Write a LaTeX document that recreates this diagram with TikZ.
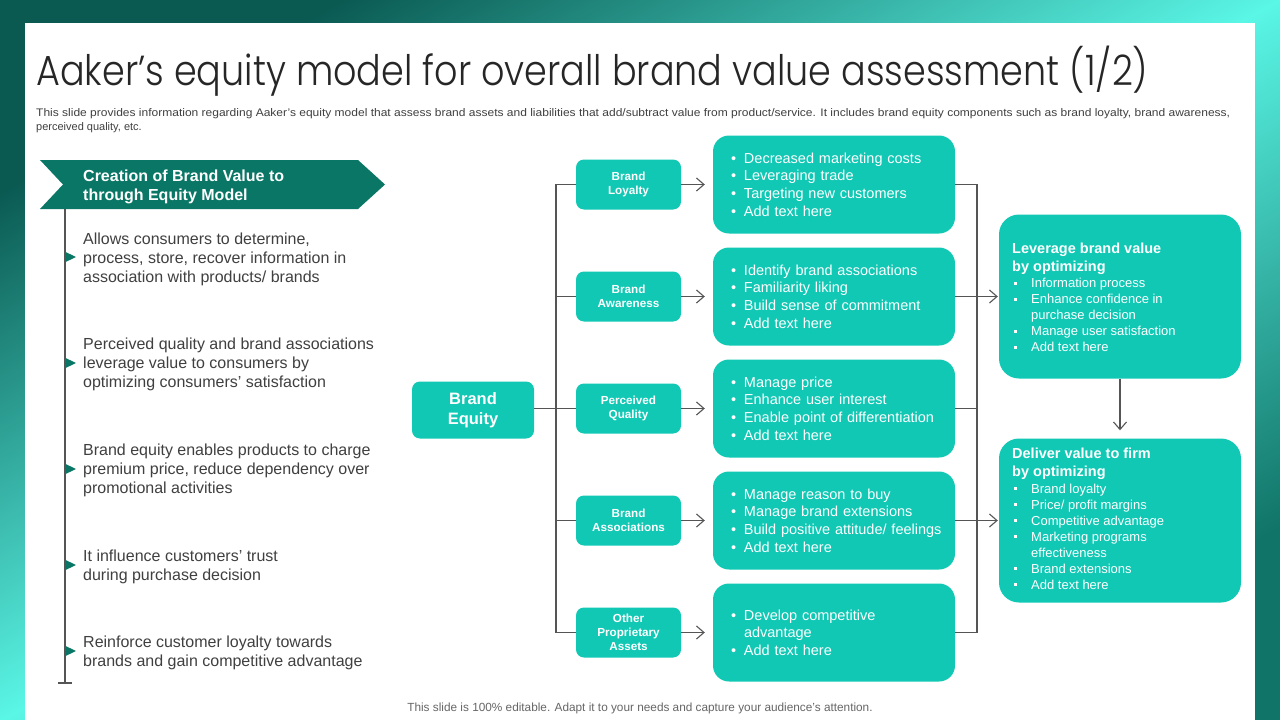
\documentclass[tikz,border=0pt]{standalone}
\usepackage{fontspec}
\setmainfont{Liberation Sans}
\IfFontExistsTF{Poppins Light}{\newfontfamily\titlefont{Poppins Light}}{\newfontfamily\titlefont{Poppins}}
\usetikzlibrary{arrows.meta,calc}
\definecolor{boxc}{RGB}{16,200,180}
\definecolor{hdrc}{RGB}{10,118,102}
\definecolor{lgray}{RGB}{85,85,85}
\definecolor{txtc}{RGB}{64,64,64}
\definecolor{titc}{RGB}{38,38,38}
\definecolor{bgdark}{RGB}{10,90,82}
\definecolor{bgcyan}{RGB}{90,246,230}
\definecolor{bgdark2}{RGB}{17,116,104}
\newcommand{\fsz}[2]{\fontsize{#1}{#2}\selectfont}
\newcommand{\bl}{\hspace*{18pt}\makebox[13pt][l]{•}}
\newcommand{\blc}{\hspace*{31pt}}
\newcommand{\sq}{\makebox[19pt][l]{\hspace*{2pt}\rule[3pt]{3pt}{3pt}}}
\newcommand{\sqc}{\hspace*{19pt}}
\tikzset{
  conn/.style={draw=lgray, line width=1.1pt},
  arr/.style={conn, -{Straight Barb[length=7.5pt,width=13pt]}},
  sbox/.style={fill=boxc, rounded corners=8pt, minimum width=105pt, minimum height=50pt,
    font=\bfseries\fsz{11.7}{14}, text=white, align=center, inner sep=0pt},
  detail/.style={fill=boxc, rounded corners=16pt, minimum width=242pt, minimum height=98pt,
    text width=242pt, inner xsep=0pt, inner ysep=0pt, align=left, text=white,
    font=\fsz{14.5}{17.6}},
  bigbox/.style={fill=boxc, rounded corners=20pt, minimum width=242pt, minimum height=164pt, inner sep=0pt},
  bigtitle/.style={anchor=north west, inner sep=0pt, align=left, text=white, font=\bfseries\fsz{14.5}{18}},
  bigbul/.style={anchor=north west, inner sep=0pt, align=left, text=white, font=\fsz{13}{16}},
  ltxt/.style={anchor=north west, inner sep=0pt, align=left, text=txtc, font=\fsz{16}{18.7}},
}
\begin{document}
\begin{tikzpicture}[x=1pt,y=-1pt]
\useasboundingbox (0,0) rectangle (1280,720);
% background
\shade[left color=bgdark, right color=bgdark2, middle color=bgcyan, shading angle=29.4] (0,0) rectangle (1280,720);
\fill[white] (25,23) rectangle (1255,720);
% title
\node[anchor=base west, inner sep=0pt, text=titc] (title) at (36,85)
  {\resizebox{1112pt}{\height}{\titlefont\fsz{42}{48}Aaker’s equity model for overall brand value assessment (1/2)}};
\node[anchor=base west, inner sep=0pt, text=txtc] (sub1) at (36,116)
  {\resizebox{1194pt}{\height}{\fsz{11}{13}This slide provides information regarding Aaker’s equity model that assess brand assets and liabilities that add/subtract value from product/service. It includes brand equity components such as brand loyalty, brand awareness,}};
\node[anchor=base west, inner sep=0pt, text=txtc, font=\fsz{11}{13}] (sub2) at (36,130) {perceived quality, etc.};
% left header
\fill[hdrc] (40,160) -- (358,160) -- (385,184.5) -- (358,209) -- (40,209) -- (63,184.5) -- cycle;
\node[anchor=north west, inner sep=0pt, align=left, text=white, font=\bfseries\fsz{16}{19}] (hdr) at (83,170)
  {Creation of Brand Value to\\through Equity Model};
\coordinate (vtop) at (65,209);
\coordinate (vbot) at (65,683);
\draw[conn] (vtop) -- (vbot);
\draw[conn] ([xshift=-7pt]vbot) -- ([xshift=7pt]vbot);
\foreach \yy in {257,363,469,565,651}{
  \fill[hdrc] (66,\yy-4.8) -- (76,\yy) -- (66,\yy+4.8) -- cycle;
}
\node[ltxt] (l1) at (83,233) {Allows consumers to determine,\\process, store, recover information in\\association with products/ brands};
\node[ltxt] (l2) at (83,338) {Perceived quality and brand associations\\leverage value to consumers by\\optimizing consumers’ satisfaction};
\node[ltxt] (l3) at (83,444) {Brand equity enables products to charge\\premium price, reduce dependency over\\promotional activities};
\node[ltxt] (l4) at (83,550) {It influence customers’ trust\\during purchase decision};
\node[ltxt] (l5) at (83,636) {Reinforce customer loyalty towards\\brands and gain competitive advantage};
% brand equity
\node[sbox, minimum width=122pt, minimum height=57pt, font=\bfseries\fsz{16.5}{19.5}] (be) at (473,410) {Brand\\Equity};
% small boxes
\node[sbox] (s1) at (628.5,184.5) {Brand\\Loyalty};
\node[sbox] (s2) at (628.5,296.5) {Brand\\Awareness};
\node[sbox] (s3) at (628.5,408.5) {Perceived\\Quality};
\node[sbox] (s4) at (628.5,520.5) {Brand\\Associations};
\node[sbox] (s5) at (628.5,632.5) {Other\\Proprietary\\Assets};
% detail boxes
\node[detail] (d1) at (834,184.5) {\bl Decreased marketing costs\\\bl Leveraging trade\\\bl Targeting new customers\\\bl Add text here};
\node[detail] (d2) at (834,296.5) {\bl Identify brand associations\\\bl Familiarity liking\\\bl Build sense of commitment\\\bl Add text here};
\node[detail] (d3) at (834,408.5) {\bl Manage price\\\bl Enhance user interest\\\bl Enable point of differentiation\\\bl Add text here};
\node[detail] (d4) at (834,520.5) {\bl Manage reason to buy\\\bl Manage brand extensions\\\bl Build positive attitude/ feelings\\\bl Add text here};
\node[detail] (d5) at (834,632.5) {\bl Develop competitive\\\blc advantage\\\bl Add text here};
% right boxes
\node[bigbox] (lev) at (1120,296.5) {};
\node[bigbox] (del) at (1120,520.5) {};
\node[bigtitle] (levh) at (1012,242.5) {Leverage brand value\\by optimizing};
\node[bigbul] (levb) at (1012,278) {\sq Information process\\\sq Enhance confidence in\\\sqc purchase decision\\\sq Manage user satisfaction\\\sq Add text here};
\node[bigtitle] (delh) at (1012,447.5) {Deliver value to firm\\by optimizing};
\node[bigbul] (delb) at (1012,483.5) {\sq Brand loyalty\\\sq Price/ profit margins\\\sq Competitive advantage\\\sq Marketing programs\\\sqc effectiveness\\\sq Brand extensions\\\sq Add text here};
% left connectors
\coordinate (lbus) at (556,408.5);
\draw[conn] (be.east |- s3.west) -- (s3.west);
\draw[conn] (s1.west) -| (lbus) |- (s5.west);
\draw[conn] (s2.west) -- (s2.west -| lbus);
\draw[conn] (s4.west) -- (s4.west -| lbus);
\foreach \i in {1,...,5}{
  \draw[arr, shorten >=8pt] (s\i.east) -- (d\i.west);
}
% right connectors
\coordinate (rbus) at (977,408.5);
\draw[conn] (d1.east) -| (rbus) |- (d5.east);
\draw[conn] (d3.east) -- (d3.east -| rbus);
\draw[arr, shorten >=1pt] (d2.east) -- (lev.west);
\draw[arr, shorten >=1pt] (d4.east) -- (del.west);
\draw[arr, shorten >=8pt] (lev.south) -- (del.north);
% footer
\node[anchor=base, inner sep=0pt, text=lgray!90, font=\fsz{11.8}{13}] (foot) at (640,711)
  {This slide is 100\% editable. Adapt it to your needs and capture your audience’s attention.};
\end{tikzpicture}
\end{document}
